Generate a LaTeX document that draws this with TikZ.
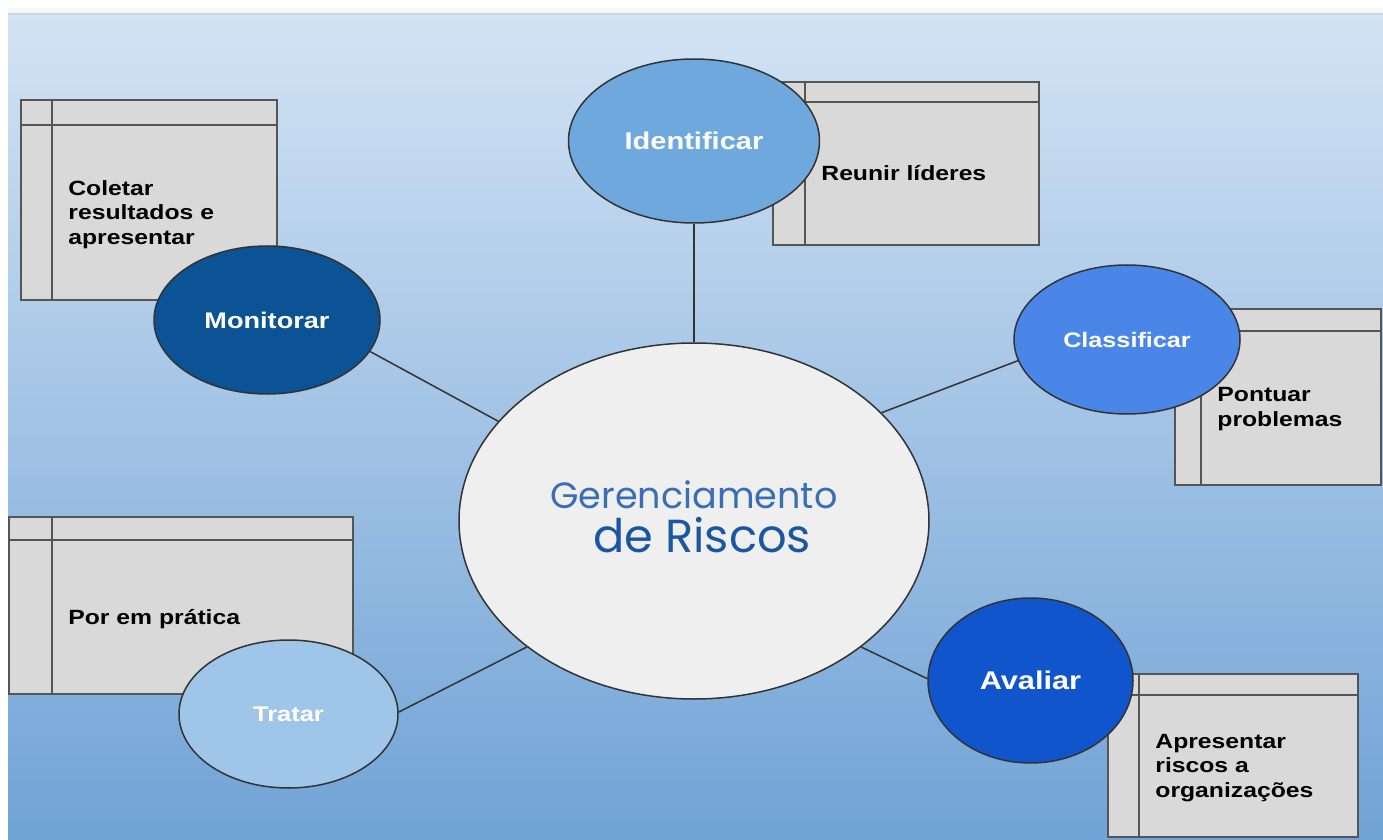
\documentclass[tikz,border=0pt]{standalone}
\usepackage{fontspec}
\usepackage{graphicx}
\usepackage{xcolor}
\usepackage{tikz}
\usetikzlibrary{shapes.geometric}
\newfontfamily\boxfont[FakeStretch=1.2]{Liberation Sans}
\newfontfamily\titlefont{Poppins}
\definecolor{BoxGray}{RGB}{217,217,217}
\definecolor{BoxLine}{RGB}{85,85,85}
\definecolor{EdgeDark}{RGB}{51,51,51}
\definecolor{SkyTop}{RGB}{211,227,244}
\definecolor{SkyBottom}{RGB}{112,163,214}
\definecolor{SkyRim}{RGB}{200,212,226}
\definecolor{HubFill}{RGB}{239,239,239}
\definecolor{HubBlue}{RGB}{58,110,180}
\definecolor{HubDeep}{RGB}{27,86,160}
\definecolor{IdeBlue}{HTML}{6FA8DC}
\definecolor{MonBlue}{HTML}{0B5394}
\definecolor{ClaBlue}{HTML}{4A86E8}
\definecolor{AvaBlue}{HTML}{1155CC}
\definecolor{TraBlue}{HTML}{9FC5E8}
\tikzset{
	taskbox/.style 2 args={rectangle, draw=BoxLine, fill=BoxGray, line width=1pt, inner sep=0pt,
		path picture={
			\draw[BoxLine, line width=1pt] ([yshift=-#1]path picture bounding box.north west) -- ([yshift=-#1]path picture bounding box.north east);
			\draw[BoxLine, line width=1pt] ([xshift=#2]path picture bounding box.north west) -- ([xshift=#2]path picture bounding box.south west);
		}},
	stage/.style={ellipse, draw=EdgeDark, line width=0.75pt, inner sep=0pt, text=white,
		font=\boxfont\bfseries\fontsize{#1}{#1}\selectfont},
	tasktext/.style={anchor=base west, inner sep=0pt, align=left,
		font=\boxfont\bfseries\fontsize{10.3pt}{12.25pt}\selectfont},
	spoke/.style={draw=EdgeDark, line width=0.75pt},
}

\begin{document}
\begin{tikzpicture}[x=0.5pt, y=-0.5pt]
		\useasboundingbox (0,0) rectangle (1383,840);
		\fill[white] (0,0) rectangle (1383,840);
		\fill[gray!6] (8,8) rectangle (1383,14);
		\shade[top color=SkyTop, bottom color=SkyBottom] (8,14) rectangle (1383,840);
		\draw[SkyRim, line width=1pt] (8,14) -- (1383,14);

		% side notes (text anchored on the last line)
		\node[taskbox={12.5pt}{15.5pt}, minimum width=128pt, minimum height=100pt] (boxMon) at (149,200) {};
		\node[taskbox={10pt}{16pt}, minimum width=133pt, minimum height=81.5pt] (boxIde) at (906,163.5) {};
		\node[taskbox={11pt}{13pt}, minimum width=103pt, minimum height=88pt] (boxCla) at (1278,397) {};
		\node[taskbox={11.5pt}{21.5pt}, minimum width=172pt, minimum height=88.5pt] (boxTra) at (181,605.5) {};
		\node[taskbox={10.5pt}{15.5pt}, minimum width=125pt, minimum height=81.5pt] (boxAva) at (1233,755.5) {};

		\node[tasktext] (txtMon) at (68,244) {Coletar\\resultados e\\apresentar};
		\node[tasktext] (txtIde) at (821,181) {Reunir líderes};
		\node[tasktext] (txtCla) at (1217,426) {Pontuar\\problemas};
		\node[tasktext] (txtTra) at (68,624) {Por em prática};
		\node[tasktext] (txtAva) at (1155,797) {Apresentar\\riscos a\\organizações};

		% stages
		\node[stage=12.1pt, fill=IdeBlue, minimum width=125.5pt, minimum height=82pt] (ide) at (694,141) {Identificar};
		\node[stage=11.3pt, fill=MonBlue, minimum width=113pt, minimum height=74pt] (mon) at (267,320) {Monitorar};
		\node[stage=10.5pt, fill=ClaBlue, minimum width=113pt, minimum height=74.5pt] (cla) at (1127,339.5) {Classificar};
		\node[stage=12.8pt, fill=AvaBlue, minimum width=102.5pt, minimum height=82.5pt] (ava) at (1030.5,680.5) {Avaliar};
		\node[stage=10.6pt, fill=TraBlue, minimum width=109.5pt, minimum height=74pt] (tra) at (288.5,714) {Tratar};

		\node[stage=10pt, fill=HubFill, minimum width=235pt, minimum height=178pt] (hub) at (694,521) {};
		\node[anchor=base, inner sep=0pt, text=HubBlue] (hubTop) at (694,508) {\resizebox{143.5pt}{!}{\titlefont Gerenciamento}};
		\node[anchor=base, inner sep=0pt, text=HubDeep] (hubLow) at (702,552) {\resizebox{109pt}{!}{\titlefont de Riscos}};

		\draw[spoke] (ide.south) -- (hub.north);
		\draw[spoke] (mon.-17) -- (hub.153);
		\draw[spoke] (cla.-169) -- (hub.30);
		\draw[spoke] (ava.179) -- (hub.-37);
		\draw[spoke] (tra.1) -- (hub.-143);
	\end{tikzpicture}
\end{document}
